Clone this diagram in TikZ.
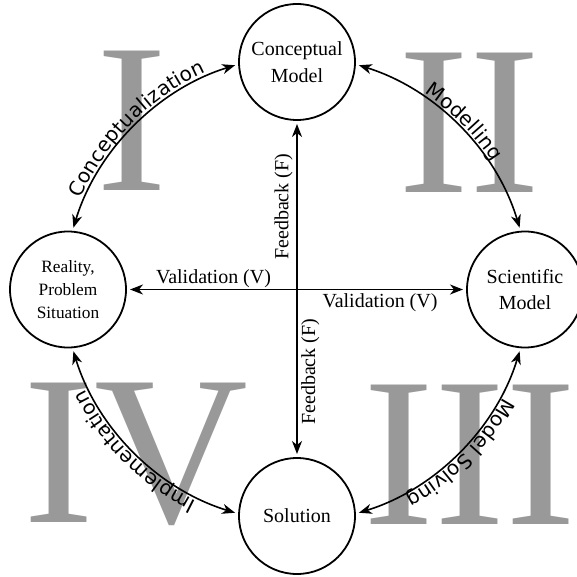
\documentclass[tikz,border=0pt]{standalone}
\usepackage{fontspec}
\setmainfont{Liberation Serif}
\newfontfamily\arcfont{DejaVu Sans}
\usetikzlibrary{arrows.meta, decorations.text}

\tikzset{
  stage/.style={circle, draw, line width=1.8pt, minimum size=116pt, inner sep=0pt, outer sep=4pt, align=center, font=\fontsize{20}{26.5}\selectfont},
  conn/.style={-{Stealth[length=13pt,width=10pt,inset=4pt]}, line width=1.6pt},
  cyc/.style={{Stealth[length=13pt,width=10pt,inset=4pt]}-{Stealth[length=13pt,width=10pt,inset=4pt]}, line width=1.6pt},
  arclabel/.style={postaction={decorate, decoration={text along path, text align=center, raise=3.5pt, text={|\arcfont\fontsize{20}{20}\selectfont|#1}}}},
  numeral/.style={text=black!40, font=\fontsize{213}{213}\selectfont, inner sep=0pt, anchor=base west},
  lbl/.style={font=\fontsize{20}{24}\selectfont}
}

\begin{document}
\begin{tikzpicture}[x=1pt, y=-1pt]
\useasboundingbox (0,0) rectangle (576,577);

% background numerals
\node[numeral] (nI) at (96,190) {I};
\node[numeral] (nII) at (398,193) {II};
\node[numeral] (nIII) at (363,524) {III};
\node[numeral] (nIV) at (23,522) {IV};

% stages
\node[stage] (C) at (297,62) {Conceptual\\Model};
\node[stage, font=\fontsize{17.3}{23.3}\selectfont] (R) at (68,289.5) {Reality,\\Problem\\Situation};
\node[stage] (S) at (525,289.5) {Scientific\\Model};
\node[stage] (Sol) at (297,516) {Solution};

% cross
\coordinate (X) at (297,289.5);
\draw[conn] (X) -- (R) node[midway, above, inner sep=0.5pt, lbl] {Validation (V)};
\draw[conn] (X) -- (S) node[midway, below, inner sep=3.5pt, lbl] {Validation (V)};
\draw[conn] (X) -- (C) node[midway, rotate=90, anchor=south, inner sep=3.5pt, lbl] {Feedback (F)};
\draw[conn] (X) -- (Sol) node[midway, rotate=90, anchor=north, inner sep=3.5pt, lbl] {Feedback (F)};

% cycle arcs
\draw[cyc, arclabel={Conceptualization}] (R.85) to[bend left=28, looseness=0.9] (C.183);
\draw[cyc, arclabel={Modelling}] (C.357) to[bend left=28, looseness=0.9] (S.95);
\draw[cyc, arclabel={Model Solving}] (S.265) to[bend left=28, looseness=0.9] (Sol.3);
\draw[cyc, arclabel={Implementation}] (Sol.177) to[bend left=28, looseness=0.9] (R.275);
\end{tikzpicture}
\end{document}
